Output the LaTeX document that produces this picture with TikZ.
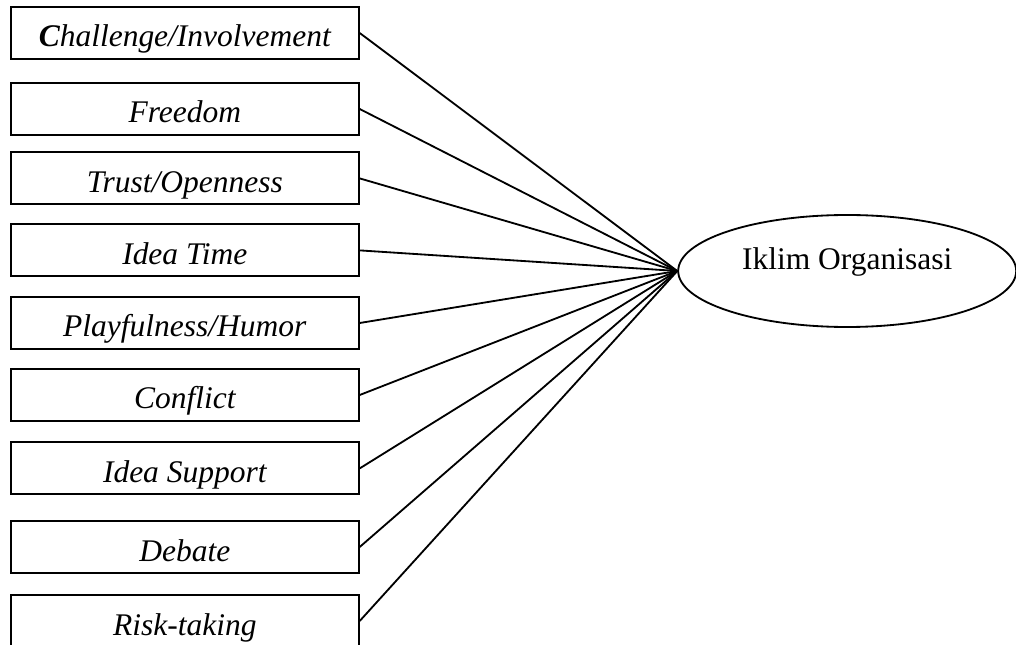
\documentclass[tikz,border=0pt]{standalone}
\usepackage{fontspec}
\setmainfont{Liberation Serif}
\usepackage{amsmath}
\usepackage{tikz}
\usetikzlibrary{shapes.geometric}

\begin{document}
\begin{tikzpicture}[
	font=\fontsize{22.4}{26}\selectfont,
	line width=1.3pt,
	factor/.style={shape=rectangle,draw=black,minimum width=8.7cm,inner sep=0pt,text height=1.0cm,text depth=0.3cm,font=\fontsize{22.4}{26}\selectfont\itshape},
	latent/.style={shape=ellipse,draw=black,minimum width=8.45cm,minimum height=2.8cm,inner sep=0pt,text depth=0.6cm}]
	\useasboundingbox (0,0) rectangle (25.4,16.1);

	\node[factor] (chal)  at (4.62, 15.275) {\textbf{C}hallenge/Involvement};
	\node[factor] (free)  at (4.62, 13.375) {Freedom};
	\node[factor] (trust) at (4.62, 11.64)  {Trust/Openness};
	\node[factor] (time)  at (4.62, 9.84)   {Idea Time};
	\node[factor] (play)  at (4.62, 8.025)  {Playfulness/Humor};
	\node[factor] (conf)  at (4.62, 6.225)  {Conflict};
	\node[factor] (sup)   at (4.62, 4.39)   {Idea Support};
	\node[factor] (deb)   at (4.62, 2.425)  {Debate};
	\node[factor] (risk)  at (4.62, 0.575)  {Risk-taking};
	\node[latent] (iklim) at (21.18, 9.325) {Iklim Organisasi};

	\path[-] (chal.east)  edge (iklim.west);
	\path[-] (free.east)  edge (iklim.west);
	\path[-] (trust.east) edge (iklim.west);
	\path[-] (time.east)  edge (iklim.west);
	\path[-] (play.east)  edge (iklim.west);
	\path[-] (conf.east)  edge (iklim.west);
	\path[-] (sup.east)   edge (iklim.west);
	\path[-] (deb.east)   edge (iklim.west);
	\path[-] (risk.east)  edge (iklim.west);

\end{tikzpicture}
\end{document}
